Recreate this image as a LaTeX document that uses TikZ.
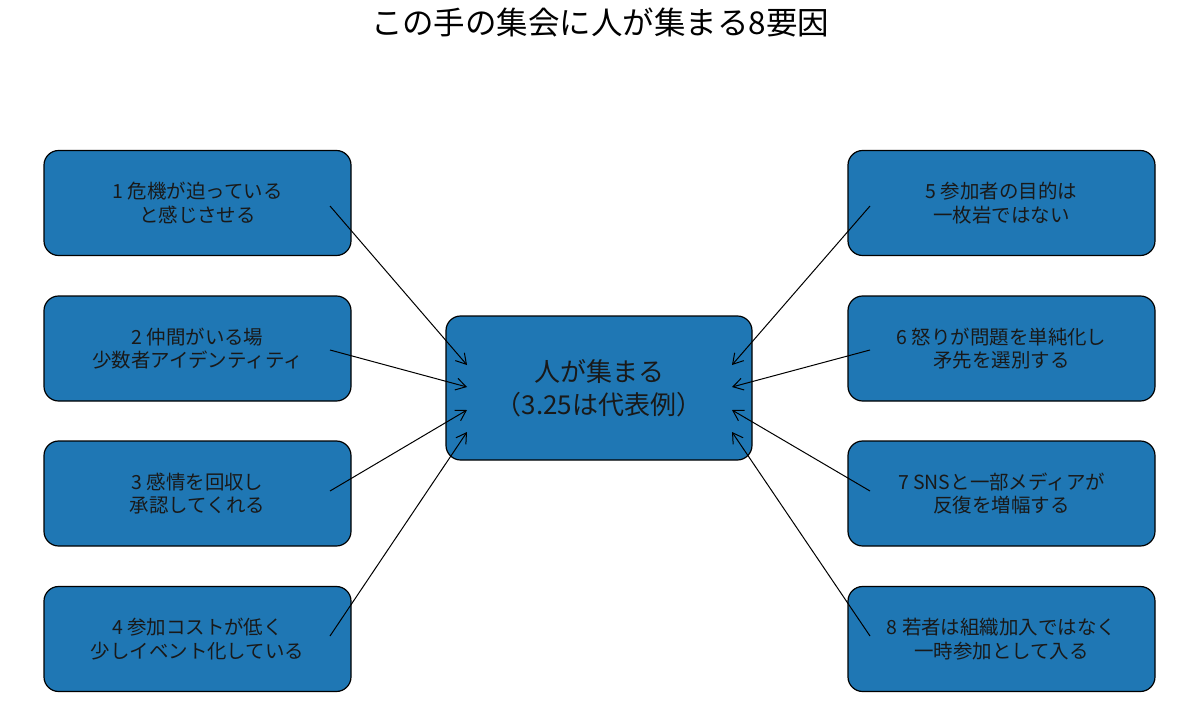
\documentclass[tikz,border=0pt]{standalone}
\usepackage{fontspec}
\setmainfont{Noto Sans CJK JP}
\usetikzlibrary{arrows.meta}
\definecolor{boxblue}{HTML}{1F77B4}
\begin{document}
\begin{tikzpicture}[x=0.75pt,y=-0.75pt,
  factor/.style={draw=black,line width=0.9pt,fill=boxblue,rounded corners=11pt,
    minimum width=230.25pt,minimum height=78.75pt,align=center,inner sep=0pt,
    font=\fontsize{14.6}{17.5}\selectfont,text=black!90},
  hub/.style={draw=black,line width=0.9pt,fill=boxblue,rounded corners=11pt,
    minimum width=229.5pt,minimum height=108pt,align=center,inner sep=0pt,
    font=\fontsize{19.5}{25}\selectfont,text=black!90},
  conn/.style={line width=0.75pt,-{Straight Barb[length=7.5pt,width=9pt,line width=0.75pt]}}]
\useasboundingbox (0,0) rectangle (1200,728);
\node[font=\fontsize{23.6}{28}\selectfont] (title) at (600,22) {この手の集会に人が集まる8要因};
\node[hub] (c) at (599,388) {人が集まる\\（3.25は代表例）};
\node[factor] (b1) at (197.5,203) {1 危機が迫っている\\と感じさせる};
\node[factor] (b2) at (197.5,348.5) {2 仲間がいる場\\少数者アイデンティティ};
\node[factor] (b3) at (197.5,493.5) {3 感情を回収し\\承認してくれる};
\node[factor] (b4) at (197.5,639) {4 参加コストが低く\\少しイベント化している};
\node[factor] (b5) at (1001.5,203) {5 参加者の目的は\\一枚岩ではない};
\node[factor] (b6) at (1001.5,348.5) {6 怒りが問題を単純化し\\矛先を選別する};
\node[factor] (b7) at (1001.5,493.5) {7 SNSと一部メディアが\\反復を増幅する};
\node[factor] (b8) at (1001.5,639) {8 若者は組織加入ではなく\\一時参加として入る};
\coordinate (s1) at (330,206); \coordinate (e1) at (467,365);
\coordinate (s2) at (330,350); \coordinate (e2) at (467,387);
\coordinate (s3) at (330,491); \coordinate (e3) at (467,410);
\coordinate (s4) at (330,636); \coordinate (e4) at (467,432);
\coordinate (s5) at (870,206); \coordinate (e5) at (732,365);
\coordinate (s6) at (870,350); \coordinate (e6) at (732,387);
\coordinate (s7) at (870,491); \coordinate (e7) at (732,410);
\coordinate (s8) at (870,636); \coordinate (e8) at (732,432);
\foreach \i in {1,...,8} \draw[conn] (s\i) -- (e\i);
\end{tikzpicture}
\end{document}
